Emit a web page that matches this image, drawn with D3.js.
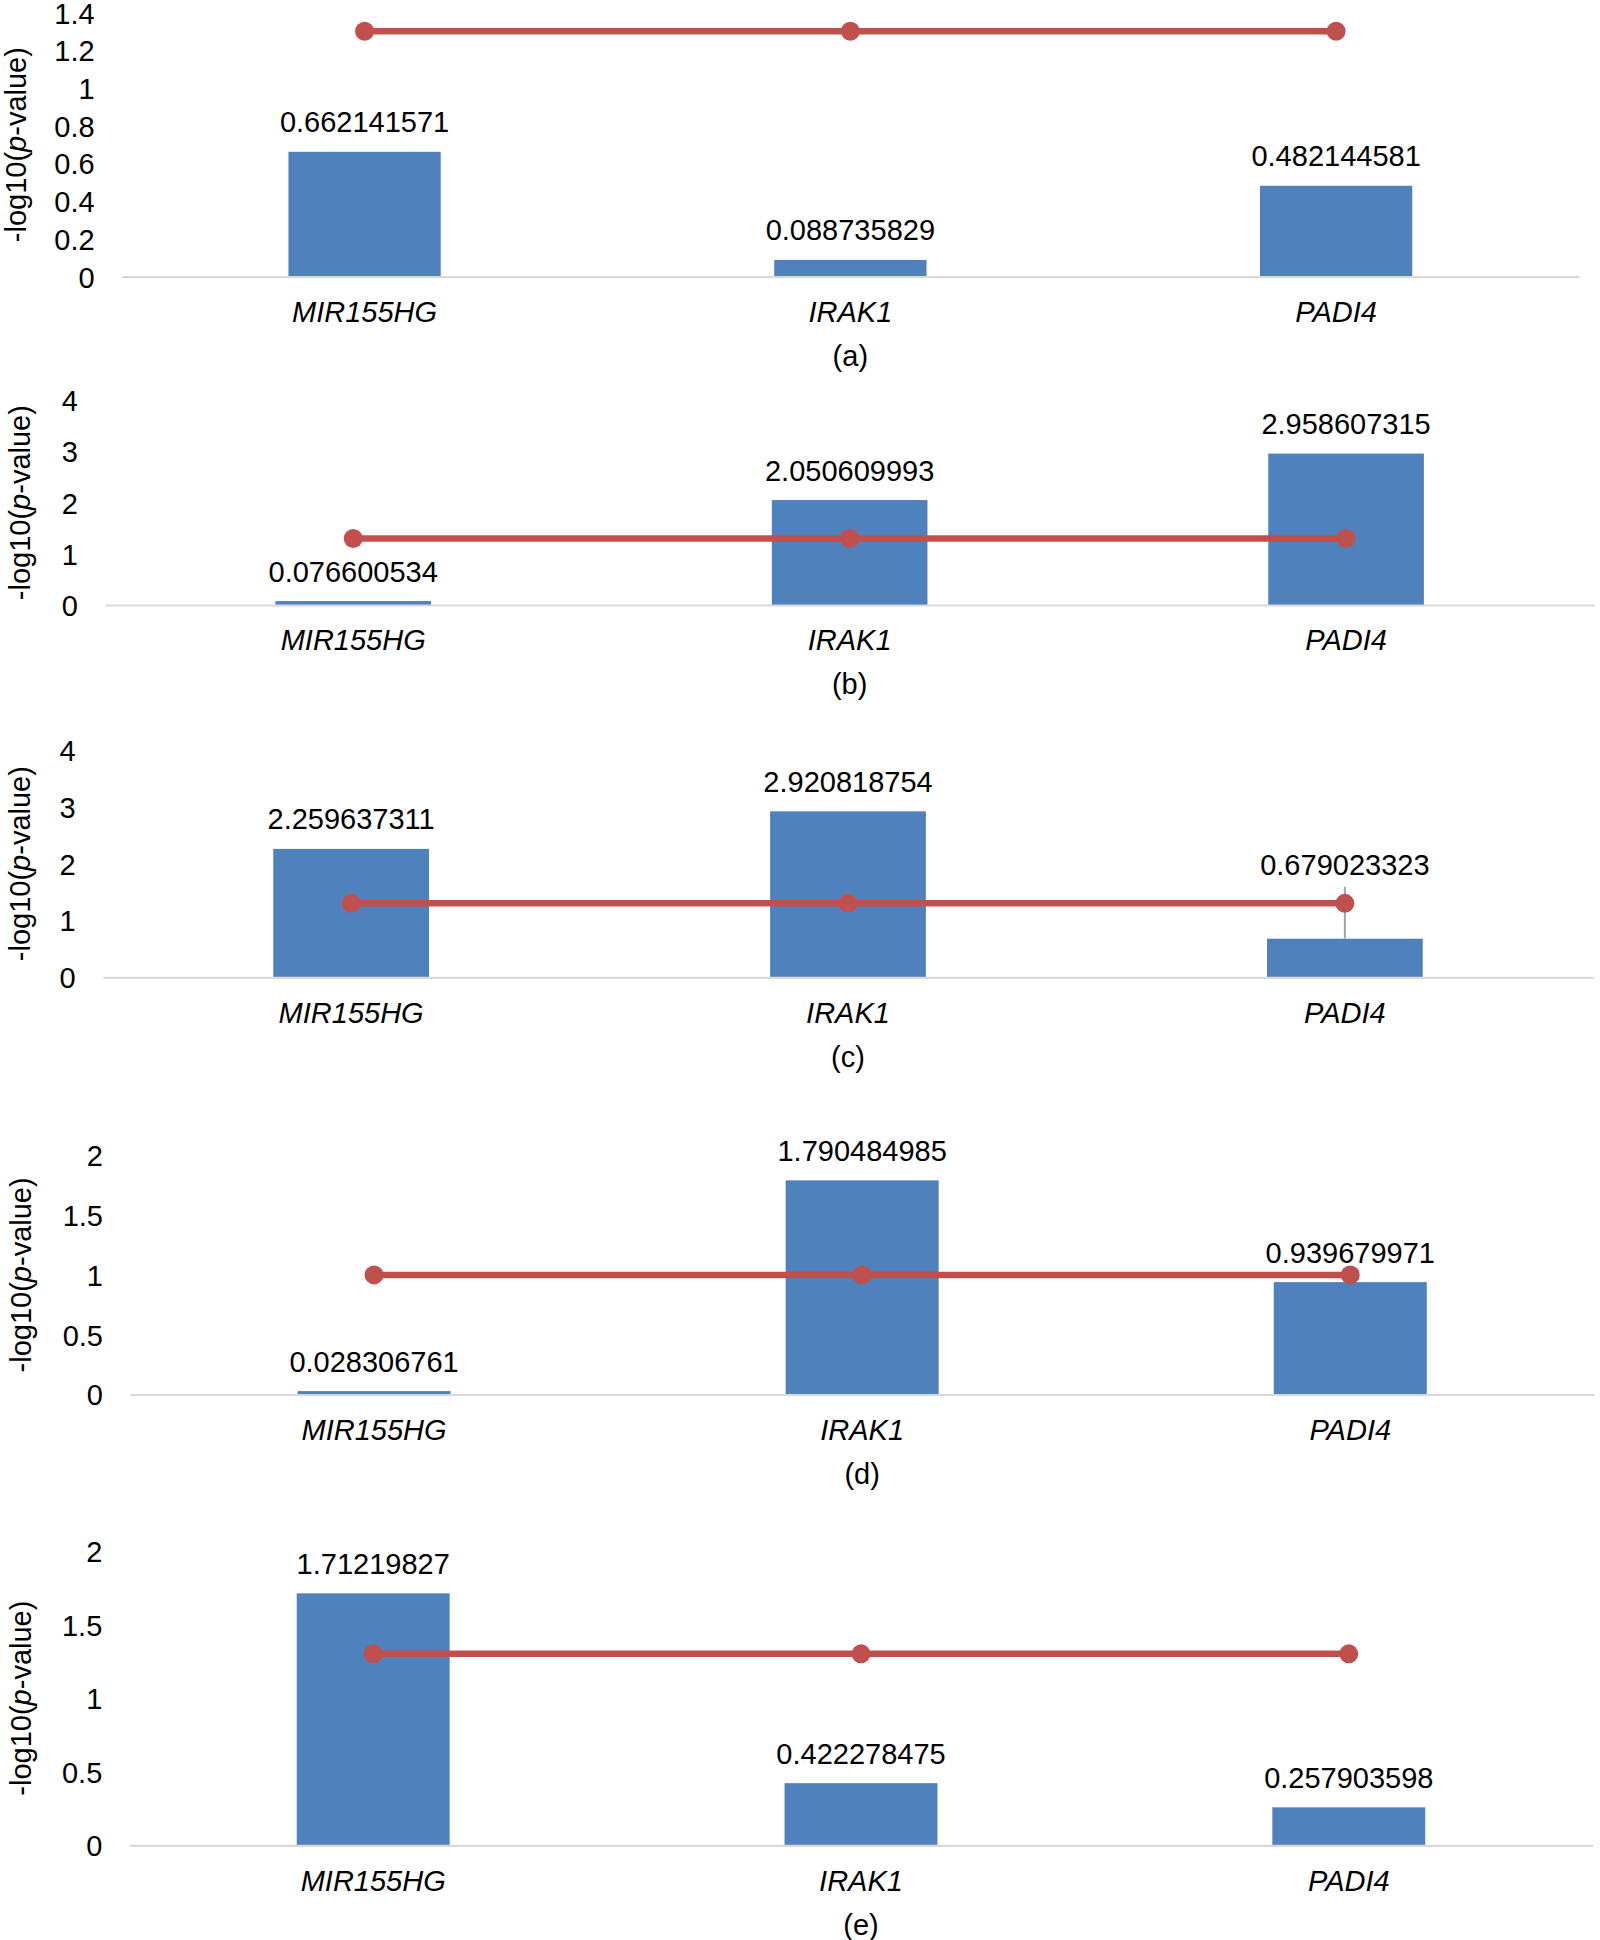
<!DOCTYPE html>
<html>
<head>
<meta charset="utf-8">
<script src="https://cdn.jsdelivr.net/npm/d3@7"></script>
<style>
  html, body { margin: 0; padding: 0; background: #ffffff; }
  svg text { font-family: "Liberation Sans", Arial, Helvetica, sans-serif; fill: #000; }
</style>
</head>
<body>
<svg id="chart" width="1600" height="1940"></svg>
<script>
// ---------------- data ----------------
const categories = ["MIR155HG", "IRAK1", "PADI4"];
const panelLabels = ["(a)", "(b)", "(c)", "(d)", "(e)"];

const valuesA = [0.662141571, 0.088735829, 0.482144581];
const valuesB = [0.076600534, 2.050609993, 2.958607315];
const valuesC = [2.259637311, 2.920818754, 0.679023323];
const valuesD = [0.028306761, 1.790484985, 0.939679971];
const valuesE = [1.71219827, 0.422278475, 0.257903598];

// significance thresholds (-log10 of p cut-off)
const thresholdA = 1.30103;
const thresholdB = 1.30103;
const thresholdC = 1.30103;
const thresholdD = 1;
const thresholdE = 1.30103;

// positive error bar (panel c only)
const errorPlusC = [0, 0, 0.916];

const ticksA = [0, 0.2, 0.4, 0.6, 0.8, 1, 1.2, 1.4];
const ticksB = [0, 1, 2, 3, 4];
const ticksC = [0, 1, 2, 3, 4];
const ticksD = [0, 0.5, 1, 1.5, 2];
const ticksE = [0, 0.5, 1, 1.5, 2];

const yTitle = "-log10(";
const yTitleItalic = "p";
const yTitleEnd = "-value)";

// ---------------- layout (pixels) ----------------
const layout = [
  { x0: 121.7, x1: 1579.0, yBase: 276.7, yTop: 12.6, tx: 16 },
  { x0: 105.0, x1: 1594.3, yBase: 605.0, yTop: 400.3, tx: 20 },
  { x0: 102.7, x1: 1593.3, yBase: 977.3, yTop: 750.0, tx: 20 },
  { x0: 130.0, x1: 1594.3, yBase: 1394.5, yTop: 1155.3, tx: 21 },
  { x0: 129.3, x1: 1592.7, yBase: 1845.3, yTop: 1551.0, tx: 21 }
];

const panels = [
  { values: valuesA, threshold: thresholdA, ticks: ticksA, err: null },
  { values: valuesB, threshold: thresholdB, ticks: ticksB, err: null },
  { values: valuesC, threshold: thresholdC, ticks: ticksC, err: errorPlusC },
  { values: valuesD, threshold: thresholdD, ticks: ticksD, err: null },
  { values: valuesE, threshold: thresholdE, ticks: ticksE, err: null }
];

const barColor = "#4f81bd";
const lineColor = "#c0504d";
const axisColor = "#d9d9d9";
const errColor = "#a5a5a5";
const fontSize = 29;
const gapP = 0.6865;

const svg = d3.select("#chart");

panels.forEach((p, i) => {
  const L = layout[i];
  const g = svg.append("g");
  const yMax = p.ticks[p.ticks.length - 1];

  const x = d3.scaleBand()
    .domain(categories)
    .range([L.x0, L.x1])
    .paddingInner(gapP)
    .paddingOuter(gapP / 2);
  const xc = d => x(d) + x.bandwidth() / 2;

  const y = d3.scaleLinear().domain([0, yMax]).range([L.yBase, L.yTop]);

  // y axis tick labels (no line)
  const yAxis = d3.axisLeft(y)
    .tickValues(p.ticks)
    .tickSize(0)
    .tickPadding(27)
    .tickFormat(d3.format("~g"));
  const ya = g.append("g")
    .attr("transform", `translate(${L.x0},0)`)
    .call(yAxis);
  ya.select(".domain").remove();
  ya.selectAll("text")
    .attr("font-size", fontSize)
    .attr("dy", "0.36em")
    .style("font-family", '"Liberation Sans", Arial, sans-serif')
    .attr("fill", "#000");

  // bars
  g.selectAll("rect.bar")
    .data(categories)
    .join("rect")
    .attr("class", "bar")
    .attr("x", d => x(d))
    .attr("width", x.bandwidth())
    .attr("y", (d, j) => y(p.values[j]))
    .attr("height", (d, j) => y(0) - y(p.values[j]))
    .attr("fill", barColor);

  // x axis baseline
  const xAxis = d3.axisBottom(x).tickSize(0).tickPadding(35);
  const xa = g.append("g")
    .attr("transform", `translate(0,${y(0)})`)
    .call(xAxis);
  xa.select(".domain")
    .attr("stroke", axisColor)
    .attr("stroke-width", 2.2);
  xa.selectAll("text")
    .attr("font-size", fontSize)
    .attr("font-style", "italic")
    .attr("y", 35)
    .attr("dy", "0.36em")
    .style("font-family", '"Liberation Sans", Arial, sans-serif')
    .attr("fill", "#000");

  // error bars
  if (p.err) {
    g.selectAll("line.err")
      .data(categories.filter((d, j) => p.err[j] > 0))
      .join("line")
      .attr("class", "err")
      .attr("x1", d => xc(d))
      .attr("x2", d => xc(d))
      .attr("y1", d => y(p.values[categories.indexOf(d)]))
      .attr("y2", d => { const j = categories.indexOf(d); return y(p.values[j] + p.err[j]); })
      .attr("stroke", errColor)
      .attr("stroke-width", 2);
  }

  // threshold line with markers
  const lineGen = d3.line().x(d => xc(d)).y(() => y(p.threshold));
  g.append("path")
    .datum(categories)
    .attr("d", lineGen)
    .attr("fill", "none")
    .attr("stroke", lineColor)
    .attr("stroke-width", 6.5);
  g.selectAll("circle.mk")
    .data(categories)
    .join("circle")
    .attr("class", "mk")
    .attr("cx", d => xc(d))
    .attr("cy", y(p.threshold))
    .attr("r", 9.5)
    .attr("fill", lineColor);

  // value labels
  g.selectAll("text.val")
    .data(categories)
    .join("text")
    .attr("class", "val")
    .attr("x", d => xc(d))
    .attr("y", (d, j) => {
      const e = p.err ? p.err[j] : 0;
      return e > 0 ? y(p.values[j] + e) - 22 : y(p.values[j]) - 30;
    })
    .attr("dy", "0.36em")
    .attr("text-anchor", "middle")
    .attr("font-size", fontSize)
    .text((d, j) => String(p.values[j]));

  // y axis title
  const ty = (L.yBase + L.yTop) / 2;
  const t = g.append("text")
    .attr("transform", `translate(${L.tx},${ty}) rotate(-90)`)
    .attr("text-anchor", "middle")
    .attr("dy", "0.36em")
    .attr("font-size", fontSize);
  t.append("tspan").text(yTitle);
  t.append("tspan").attr("font-style", "italic").text(yTitleItalic);
  t.append("tspan").text(yTitleEnd);

  // panel label
  g.append("text")
    .attr("x", (L.x0 + L.x1) / 2)
    .attr("y", y(0) + 79)
    .attr("dy", "0.36em")
    .attr("text-anchor", "middle")
    .attr("font-size", fontSize)
    .text(panelLabels[i]);
});
</script>
</body>
</html>
